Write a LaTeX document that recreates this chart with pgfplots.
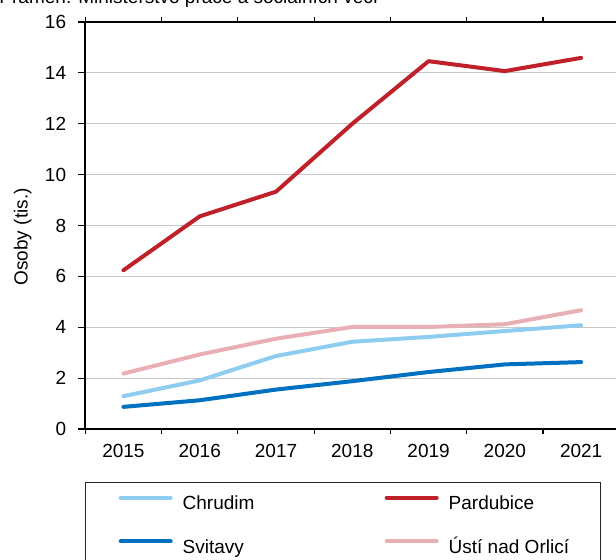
\documentclass[border=0pt]{standalone}
\usepackage{fontspec}
\setmainfont{Liberation Sans}
\usepackage{pgfplots}
\pgfplotsset{compat=1.18}
\definecolor{cChr}{HTML}{8ECCF0}
\definecolor{cPar}{HTML}{C0202A}
\definecolor{cSvi}{HTML}{0070C0}
\definecolor{cUst}{HTML}{E8B0B4}
\definecolor{cGrid}{HTML}{C8C8C8}
\begin{document}
\fontsize{19bp}{23bp}\selectfont
\begin{tikzpicture}
\useasboundingbox (-85.3bp,-131bp) rectangle (530.7bp,429bp);
\node[anchor=base west, inner sep=0pt, font=\fontsize{19bp}{23bp}\selectfont] at (-86bp,425bp) {Pramen: Ministerstvo práce a sociálních věcí};
\begin{axis}[
  at={(0,0)}, anchor=south west,
  scale only axis, width=534bp, height=407bp,
  xmin=-0.5, xmax=6.5, ymin=0, ymax=16,
  xtick={0,...,6}, xticklabels={2015,2016,2017,2018,2019,2020,2021},
  major x tick style={draw=none},
  minor xtick={-0.5,0.5,1.5,2.5,3.5,4.5,5.5},
  ytick={0,2,...,16},
  tick align=outside, major tick length=7bp, minor tick length=5bp,
  every tick/.style={black, line width=1.2bp},
  ymajorgrids, grid style={cGrid, line width=1bp},
  axis line style={black, line width=1.6bp},
  tick label style={font=\fontsize{19bp}{23bp}\selectfont, inner sep=0pt},
  /pgf/number format/assume math mode=true,
  yticklabel style={anchor=east, xshift=-12bp},
  xticklabel style={anchor=north, yshift=-8bp},
  ylabel={Osoby (tis.)},
  ylabel style={at={(axis description cs:-0.117,0.472)}, anchor=center, font=\fontsize{19bp}{23bp}\selectfont, inner sep=0pt},
  legend columns=2,
  legend cell align=left,
  legend style={at={(0,0)}, anchor=north west, yshift=-53.3bp, draw=black!85, line width=0.8bp,
    inner xsep=31bp, inner ysep=12.7bp, font=\fontsize{19bp}{23bp}\selectfont,
    nodes={inner sep=0pt, text height=14bp, text depth=4bp},
    /tikz/row sep=25.7bp, /tikz/column sep=8bp},
  legend image code/.code={\path (0bp,0bp) (54bp,0bp); \draw[#1, line width=4bp, line cap=round] (2bp,0.35em) -- (52bp,0.35em);},
]
\addplot[cChr, line width=4bp, line cap=round, line join=round] coordinates {(0,1.29) (1,1.91) (2,2.87) (3,3.43) (4,3.62) (5,3.85) (6,4.08)};
\addlegendentry{\makebox[192bp][l]{Chrudim}}
\addplot[cPar, line width=4bp, line cap=round, line join=round] coordinates {(0,6.24) (1,8.36) (2,9.33) (3,12.0) (4,14.46) (5,14.07) (6,14.59)};
\addlegendentry{Pardubice}
\addplot[cSvi, line width=4bp, line cap=round, line join=round] coordinates {(0,0.87) (1,1.13) (2,1.55) (3,1.88) (4,2.24) (5,2.54) (6,2.63)};
\addlegendentry{Svitavy}
\addplot[cUst, line width=4bp, line cap=round, line join=round] coordinates {(0,2.18) (1,2.93) (2,3.55) (3,4.01) (4,4.01) (5,4.12) (6,4.67)};
\addlegendentry{Ústí nad Orlicí}
\end{axis}
\end{tikzpicture}
\end{document}
